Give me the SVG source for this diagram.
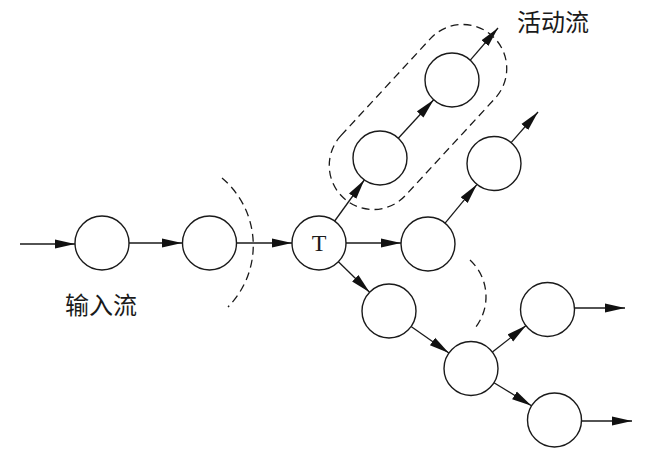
<svg xmlns="http://www.w3.org/2000/svg" width="671" height="454" viewBox="0 0 671 454">
<style>
.n{fill:#fff;stroke:#1a1a1a;stroke-width:1.4}
.c{stroke:#1a1a1a;stroke-width:1.3;fill:none;marker-end:url(#ah)}
.d{stroke:#1a1a1a;stroke-width:1.3;fill:none;stroke-dasharray:8 5}
.t{font-family:"Noto Sans CJK SC","Noto Sans",sans-serif;font-size:24px;fill:#1a1a1a}
.T{font-family:"Liberation Serif",serif;font-size:24px;fill:#1a1a1a}
</style>
<defs>
<marker id="ah" markerUnits="userSpaceOnUse" markerWidth="22" markerHeight="12" refX="20" refY="5" orient="auto">
<path d="M0,0.5 L20,5 L0,9.5 Z" fill="#111"/>
</marker>
</defs>
<rect width="671" height="454" fill="#fff"/>
<g id="connectors">
<line class="c" x1="20" y1="244" x2="75" y2="244"/>
<line class="c" x1="129" y1="243" x2="182" y2="243"/>
<line class="c" x1="237" y1="243" x2="292" y2="243"/>
<line class="c" x1="334.7" y1="221" x2="364.3" y2="180"/>
<line class="c" x1="398.3" y1="138.2" x2="433.7" y2="99.8"/>
<line class="c" x1="470.3" y1="60.2" x2="498" y2="28"/>
<line class="c" x1="346" y1="243" x2="401" y2="243"/>
<line class="c" x1="445.1" y1="223.1" x2="476.9" y2="184.6"/>
<line class="c" x1="511.1" y1="142.6" x2="538" y2="112"/>
<line class="c" x1="338.4" y1="261.8" x2="369.6" y2="292.2"/>
<line class="c" x1="411.1" y1="326.5" x2="448.9" y2="353"/>
<line class="c" x1="492.4" y1="352" x2="526.1" y2="325.6"/>
<line class="c" x1="574.5" y1="308" x2="625" y2="308"/>
<line class="c" x1="494" y1="382.7" x2="531.5" y2="405.8"/>
<line class="c" x1="581.5" y1="421" x2="632" y2="421"/>
</g>
<g id="boundaries">
<path class="d" d="M222,178 A88,88 0 0 1 228,307"/>
<path class="d" d="M470,260 A50,50 0 0 1 475,328"/>
<rect class="d" x="308" y="73" width="220" height="88" rx="44" ry="44" transform="rotate(-47.3 418 117)"/>
</g>
<g id="n1"><circle class="n" cx="102" cy="243" r="27"/></g>
<g id="n2"><circle class="n" cx="209.5" cy="243" r="27"/></g>
<g id="nT"><circle class="n" cx="319" cy="243" r="27"/><text class="T" x="319" y="251" text-anchor="middle">T</text></g>
<g id="nA"><circle class="n" cx="380" cy="158" r="27"/></g>
<g id="nB"><circle class="n" cx="452" cy="80" r="27"/></g>
<g id="nC"><circle class="n" cx="428" cy="244" r="27"/></g>
<g id="nD"><circle class="n" cx="494" cy="163.5" r="27"/></g>
<g id="nE"><circle class="n" cx="389" cy="311" r="27"/></g>
<g id="nF"><circle class="n" cx="471" cy="368.5" r="27"/></g>
<g id="nG"><circle class="n" cx="547.5" cy="309.5" r="27"/></g>
<g id="nH"><circle class="n" cx="554.5" cy="420" r="27"/></g>
<g id="labels">
<text class="t" x="65" y="314">输入流</text>
<text class="t" x="517" y="31">活动流</text>
</g>
</svg>
